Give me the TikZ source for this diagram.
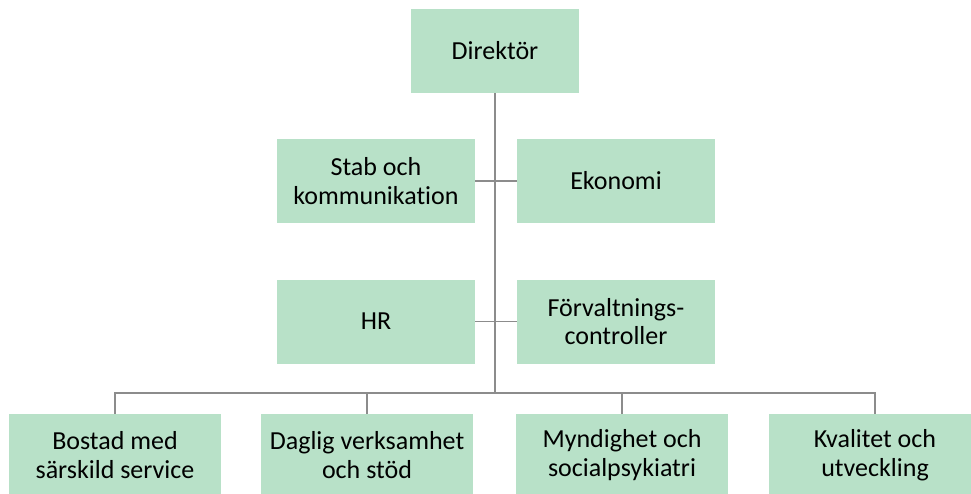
\documentclass[tikz,border=0pt]{standalone}
\usepackage{fontspec}
\setmainfont{Carlito}[Ligatures=CommonOff]
\definecolor{boxgreen}{HTML}{B8E1C8}
\definecolor{linegray}{HTML}{8C8C8C}
\begin{document}
\begin{tikzpicture}[x=1pt,y=-1pt,
  orgbox/.style={fill=boxgreen, draw=none, inner sep=0pt, align=center,
    font=\fontsize{26}{28.5}\selectfont},
  midbox/.style={orgbox, minimum width=198pt, minimum height=84pt},
  topbox/.style={orgbox, minimum width=168pt, minimum height=84pt},
  lowbox/.style={orgbox, minimum width=212pt, minimum height=82pt},
  conn/.style={draw=linegray, line width=1.5pt}]
\clip (0,0) rectangle (971,493);
\fill[white] (0,0) rectangle (971,493);
\node[topbox] (dir) at (495,51) {Direktör};
\node[midbox] (stab) at (376,181) {Stab och\\kommunikation};
\node[midbox] (eko) at (616,181) {Ekonomi};
\node[midbox] (hr) at (376,321.5) {HR};
\node[midbox] (forv) at (616,321.5) {Förvaltnings-\\controller};
\node[lowbox] (bos) at (115,455) {Bostad med\\särskild service};
\node[lowbox] (dag) at (367,455) {Daglig verksamhet\\och stöd};
\node[lowbox] (myn) at (622,455) {Myndighet och\\socialpsykiatri};
\node[lowbox] (kva) at (875,455) {Kvalitet och\\utveckling};
\coordinate (hub) at (495,393);
\draw[conn] (dir.south) -- (hub);
\draw[conn] (stab.east) -- (eko.west);
\draw[conn] (hr.east) -- (forv.west);
\draw[conn] (bos.north) |- (hub) -| (kva.north);
\draw[conn] (dag.north) -- (dag.north |- hub);
\draw[conn] (myn.north) -- (myn.north |- hub);
\end{tikzpicture}
\end{document}
